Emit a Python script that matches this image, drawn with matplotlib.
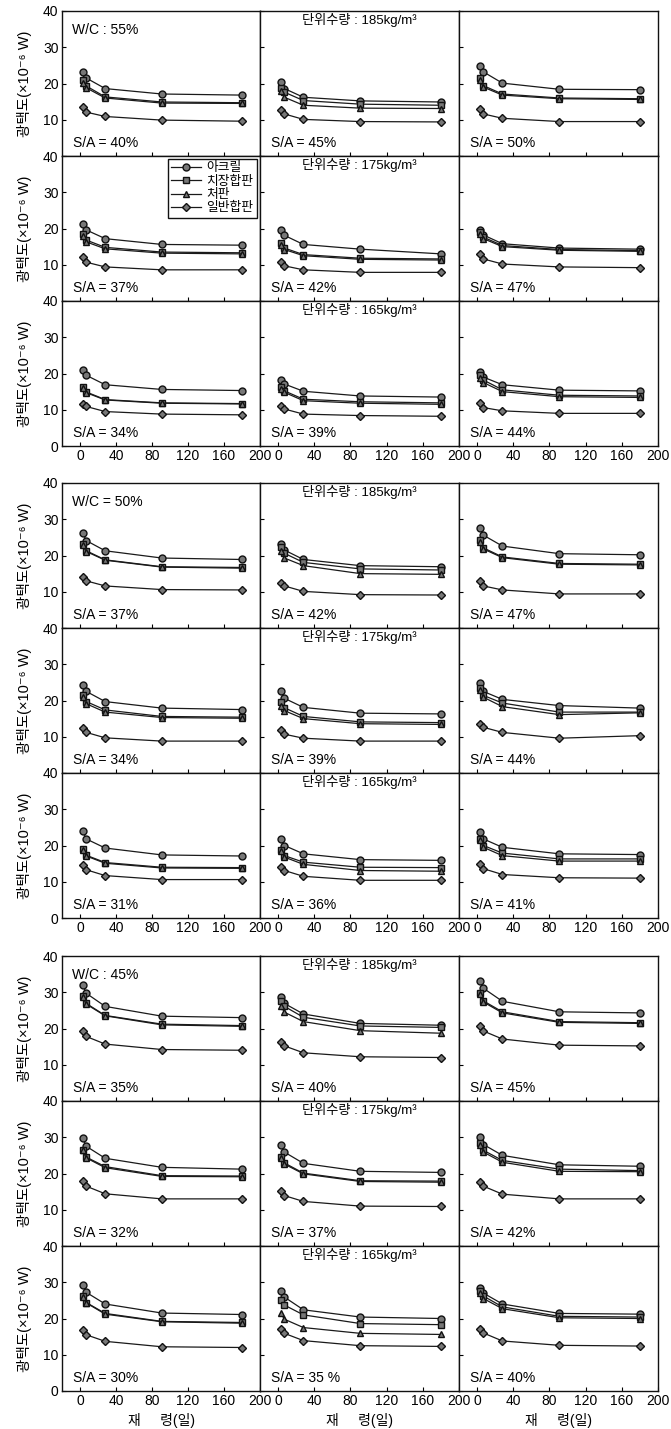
import matplotlib
matplotlib.use("Agg")
import matplotlib.pyplot as plt

plt.rcParams['font.family'] = ['Liberation Sans', 'Noto Sans CJK KR', 'DejaVu Sans']

# curing age (days)
ages = [3, 7, 28, 91, 180]
materials = ['아크릴', '치장합판', '처판', '일반합판']
markers = ['o', 's', '^', 'D']

wc_labels = ['W/C : 55%', 'W/C = 50%', 'W/C : 45%']
water_labels = ['단위수량 : 185kg/m³', '단위수량 : 175kg/m³', '단위수량 : 165kg/m³']
sa_labels = [
    ['40%', '45%', '50%', '37%', '42%', '47%', '34%', '39%', '44%'],
    ['37%', '42%', '47%', '34%', '39%', '44%', '31%', '36%', '41%'],
    ['35%', '40%', '45%', '32%', '37%', '42%', '30%', '35 %', '40%'],
]

# gloss (x10^-6 W); panels in row order (185, 175, 165 kg/m3) x increasing S/A
wc55_acrylic = [[23.2, 21.5, 18.6, 17.1, 16.8], [20.3, 18.6, 16.2, 15.2, 14.9], [24.8, 23.2, 20.1, 18.4, 18.3],
                [21.3, 19.6, 17.2, 15.6, 15.4], [19.7, 18.1, 15.6, 14.3, 13.0], [19.5, 18.2, 15.8, 14.6, 14.3],
                [21.1, 19.5, 16.9, 15.6, 15.3], [18.3, 17.1, 15.1, 13.8, 13.5], [20.5, 19.0, 16.9, 15.4, 15.2]]
wc55_decor = [[21.0, 19.3, 16.3, 14.9, 14.7], [18.8, 17.6, 15.3, 14.3, 14.0], [21.4, 19.4, 17.1, 16.0, 15.8],
              [18.6, 16.8, 14.8, 13.5, 13.3], [15.9, 14.6, 12.8, 11.8, 11.6], [19.0, 17.6, 15.3, 14.2, 13.9],
              [16.3, 14.9, 12.8, 11.9, 11.7], [16.2, 15.2, 12.9, 12.2, 11.9], [19.5, 18.2, 15.5, 14.0, 13.8]]
wc55_steel = [[20.2, 18.8, 16.0, 14.6, 14.5], [17.8, 16.2, 14.0, 13.2, 13.1], [20.9, 19.0, 16.8, 15.8, 15.6],
              [17.8, 16.3, 14.4, 13.2, 13.0], [15.5, 14.2, 12.5, 11.5, 11.3], [18.5, 17.2, 15.0, 14.0, 13.7],
              [16.1, 14.7, 12.7, 11.8, 11.6], [15.8, 14.8, 12.5, 11.8, 11.5], [18.8, 17.5, 15.0, 13.6, 13.4]]
wc55_plywood = [[13.4, 12.1, 10.9, 9.9, 9.6], [12.7, 11.6, 10.1, 9.5, 9.4], [13.0, 11.6, 10.4, 9.5, 9.5],
                [12.1, 10.7, 9.4, 8.6, 8.6], [10.7, 9.7, 8.6, 7.9, 7.9], [12.9, 11.6, 10.2, 9.4, 9.2],
                [11.7, 10.9, 9.5, 8.8, 8.6], [11.1, 10.2, 8.8, 8.4, 8.2], [12.0, 10.6, 9.7, 9.0, 9.0]]

wc50_acrylic = [[26.2, 24.1, 21.3, 19.3, 18.9], [23.2, 21.5, 18.9, 17.2, 16.9], [27.6, 25.6, 22.6, 20.5, 20.2],
                [24.2, 22.5, 19.7, 17.9, 17.5], [22.5, 20.6, 18.1, 16.5, 16.3], [24.9, 22.5, 20.3, 18.6, 17.9],
                [23.9, 21.8, 19.3, 17.4, 17.1], [21.8, 20.0, 17.7, 16.1, 15.9], [23.7, 21.8, 19.5, 17.7, 17.5]]
wc50_decor = [[23.2, 21.3, 18.8, 16.9, 16.7], [22.4, 20.6, 18.1, 16.3, 16.0], [24.2, 22.1, 19.6, 17.8, 17.6],
              [21.6, 19.7, 17.4, 15.6, 15.4], [19.5, 18.0, 15.6, 14.1, 13.9], [23.4, 21.4, 19.3, 16.8, 16.8],
              [18.9, 17.3, 15.3, 14.0, 13.9], [18.8, 17.2, 15.4, 14.0, 13.9], [21.8, 20.0, 17.9, 16.3, 16.3]]
wc50_steel = [[22.9, 21.1, 18.7, 16.8, 16.5], [21.3, 19.3, 17.2, 15.0, 14.8], [23.8, 21.8, 19.4, 17.6, 17.4],
              [20.9, 19.1, 16.8, 15.3, 15.1], [18.6, 17.2, 15.0, 13.6, 13.4], [22.8, 20.9, 18.3, 16.1, 16.6],
              [18.7, 17.1, 15.1, 13.8, 13.7], [18.4, 16.8, 14.8, 13.1, 12.9], [21.4, 19.5, 17.2, 15.7, 15.7]]
wc50_plywood = [[14.1, 13.0, 11.6, 10.6, 10.5], [12.5, 11.6, 10.1, 9.2, 9.1], [13.0, 11.6, 10.5, 9.4, 9.4],
                [12.3, 11.2, 9.7, 8.8, 8.8], [11.9, 10.7, 9.6, 8.8, 8.8], [13.5, 12.6, 11.2, 9.6, 10.3],
                [14.5, 13.3, 11.7, 10.6, 10.6], [14.2, 13.1, 11.5, 10.4, 10.4], [15.0, 13.6, 12.0, 11.1, 11.0]]

wc45_acrylic = [[32.0, 29.7, 26.1, 23.4, 23.0], [28.8, 26.9, 24.0, 21.4, 20.9], [33.2, 31.1, 27.5, 24.6, 24.3],
                [29.7, 27.5, 24.2, 21.7, 21.2], [28.0, 25.9, 22.8, 20.6, 20.3], [30.2, 28.0, 25.0, 22.4, 22.0],
                [29.3, 27.2, 24.0, 21.5, 21.1], [27.5, 25.9, 22.4, 20.4, 20.0], [28.4, 27.0, 24.0, 21.4, 21.2]]
wc45_decor = [[28.9, 26.9, 23.6, 21.2, 20.8], [27.7, 26.1, 23.1, 20.7, 20.3], [29.8, 27.6, 24.6, 21.9, 21.6],
              [26.6, 24.5, 21.9, 19.4, 19.3], [24.6, 22.9, 20.1, 18.0, 17.9], [28.5, 26.4, 23.6, 21.2, 20.8],
              [26.1, 24.4, 21.4, 19.2, 18.9], [25.2, 23.7, 21.0, 18.6, 18.3], [27.6, 26.2, 23.2, 20.6, 20.4]]
wc45_steel = [[28.7, 26.7, 23.5, 21.0, 20.6], [26.3, 24.5, 21.9, 19.4, 18.7], [29.5, 27.3, 24.3, 21.7, 21.4],
              [26.4, 24.3, 21.6, 19.2, 19.1], [24.3, 22.6, 19.9, 17.8, 17.6], [28.0, 25.9, 23.1, 20.6, 20.5],
              [26.0, 24.3, 21.2, 19.1, 18.7], [21.4, 19.8, 17.5, 15.9, 15.6], [27.0, 25.5, 22.7, 20.2, 20.0]]
wc45_plywood = [[19.4, 17.8, 15.7, 14.2, 14.0], [16.4, 15.2, 13.3, 12.2, 12.0], [20.8, 19.3, 17.1, 15.4, 15.2],
                [17.9, 16.5, 14.4, 13.0, 13.0], [15.3, 13.9, 12.3, 11.0, 10.9], [17.7, 16.5, 14.3, 13.0, 13.0],
                [16.8, 15.5, 13.7, 12.2, 12.0], [17.1, 15.9, 13.9, 12.5, 12.3], [17.2, 16.0, 13.8, 12.6, 12.4]]

groups = [
    [wc55_acrylic, wc55_decor, wc55_steel, wc55_plywood],
    [wc50_acrylic, wc50_decor, wc50_steel, wc50_plywood],
    [wc45_acrylic, wc45_decor, wc45_steel, wc45_plywood],
]

W, H = 671, 1429
fig = plt.figure(figsize=(W / 100, H / 100), dpi=100)

col_edges = [62, 260, 459, 658]
group_tops = [11, 483, 956]
row_h = 145

ylabel = '광택도(×10⁻⁶ W)'
fs = 10

for g, series in enumerate(groups):
    for r in range(3):
        for c in range(3):
            k = r * 3 + c
            x0, x1 = col_edges[c], col_edges[c + 1]
            y_top = group_tops[g] + r * row_h
            ax = fig.add_axes([x0 / W, 1 - (y_top + row_h) / H, (x1 - x0) / W, row_h / H])
            for m in range(4):
                ax.plot(ages, series[m][k], color='#1a1a1a', lw=0.9,
                        marker=markers[m], ms=5.0 if m != 3 else 4.4,
                        mfc='#777777', mec='#111111', mew=1.0, label=materials[m])
            ax.set_xlim(-20, 200)
            ax.set_ylim(0, 40)
            ax.set_xticks([0, 40, 80, 120, 160, 200])
            ax.set_yticks([0, 10, 20, 30, 40])
            ax.tick_params(direction='in', length=3, width=0.8, labelsize=fs, pad=2.5)
            for s in ax.spines.values():
                s.set_linewidth(1.0)
                s.set_color('#111111')
            if c == 0:
                if r == 2:
                    ax.set_yticklabels(['0', '10', '20', '30', '40'])
                else:
                    ax.set_yticklabels(['', '10', '20', '30', '40'])
                ax.set_ylabel(ylabel, fontsize=fs + 0.5, labelpad=8)
            else:
                ax.set_yticklabels([])
            if r == 2:
                ax.set_xticklabels(['0', '40', '80', '120', '160', '200'])
                if g == 2:
                    ax.set_xlabel('재     령(일)', fontsize=fs, labelpad=3)
            else:
                ax.set_xticklabels([])
            ax.text(0.055, 0.09, 'S/A = ' + sa_labels[g][k], transform=ax.transAxes,
                    fontsize=fs, ha='left', va='center')
            if r == 0 and c == 0:
                ax.text(0.05, 0.87, wc_labels[g], transform=ax.transAxes,
                        fontsize=fs, ha='left', va='center')
            if c == 1:
                ax.text(0.5, 0.94, water_labels[r], transform=ax.transAxes,
                        fontsize=fs - 0.5, ha='center', va='center')
            if g == 0 and r == 1 and c == 0:
                leg = ax.legend(loc='upper right', fontsize=fs - 0.8, frameon=True,
                                fancybox=False, edgecolor='#111111', framealpha=1,
                                borderpad=0.25, labelspacing=0.1, handlelength=2.4,
                                handletextpad=0.4, borderaxespad=0.25)
                leg.get_frame().set_linewidth(1.0)

fig.savefig('out.png', dpi=100)
